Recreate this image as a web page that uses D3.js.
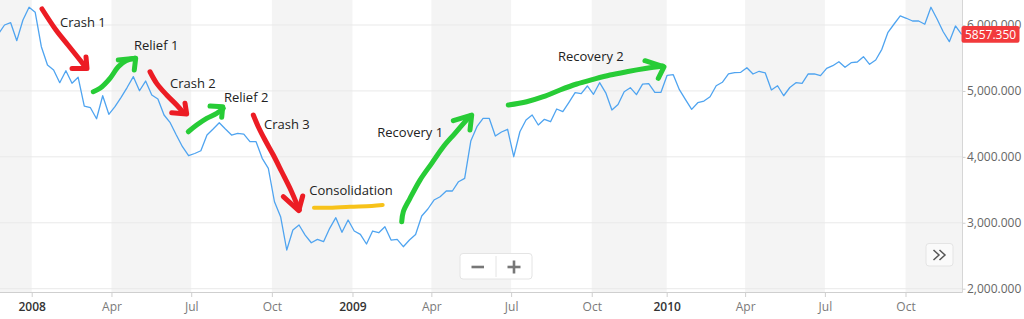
<!DOCTYPE html>
<html><head><meta charset="utf-8">
<script src="https://cdn.jsdelivr.net/npm/d3@7"></script>
<style>html,body{margin:0;padding:0;background:#fff;overflow:hidden}svg{display:block}</style>
</head><body><svg id="chart" width="1024" height="319"></svg>
<script>
// ---------- DATA ----------
const startDate = "2007-11-24";
const skippedWeeks = ["2009-12-26"];
const values = [
5863,6000,6035,5762,6076,6269,6193,5671,5393,5317,
5125,5307,5116,5207,4771,4745,4578,4927,4645,4761,
4903,5055,5216,5003,5150,4938,4877,4635,4518,4331,
4154,4017,4051,4093,4331,4422,4518,4422,4331,4357,
4346,4230,4230,3978,3826,3319,3092,2587,2890,2966,
2814,2697,2749,2713,2916,3077,2855,3042,2875,2825,
2678,2875,2849,2940,2738,2749,2637,2738,2822,3103,
3209,3345,3395,3482,3482,3623,3674,4240,4457,4585,
4585,4316,4377,4418,4002,4381,4559,4635,4483,4569,
4533,4726,4685,4827,4973,4958,5075,4949,5125,4971,
4711,4794,4988,5049,4943,5102,5110,4979,4979,5237,
5246,5019,4867,4721,4821,4847,4912,5078,5131,5257,
5279,5282,5352,5257,5298,5272,5014,5078,4927,5052,
5125,5116,5257,5257,5231,5343,5383,5443,5358,5428,
5439,5519,5404,5469,5631,5889,6015,6137,6102,6061,
6061,6011,6269,6091,5898,5747,5985,5857.35
];
const lastPrice = 5857.35;
const yTickValues = [2000, 3000, 4000, 5000, 6000];
const xTickDates = ["2008-01-01","2008-04-01","2008-07-01","2008-10-01","2009-01-01","2009-04-01","2009-07-01","2009-10-01","2010-01-01","2010-04-01","2010-07-01","2010-10-01"];
const xTickLabels = ["2008","Apr","Jul","Oct","2009","Apr","Jul","Oct","2010","Apr","Jul","Oct"];
const shadedQuarters = [["2007-10-01","2008-01-01"],["2008-04-01","2008-07-01"],["2008-10-01","2009-01-01"],["2009-04-01","2009-07-01"],["2009-10-01","2010-01-01"],["2010-04-01","2010-07-01"],["2010-10-01","2011-01-01"]];

// annotations in data units: [week index, value]
const labelTexts = ["Crash 1","Relief 1","Crash 2","Relief 2","Crash 3","Consolidation","Recovery 1","Recovery 2"];
const labelIdx   = [10.04, 22.1, 27.97, 36.77, 43.29, 50.68, 61.76, 91.21];
const labelVal   = [5969, 5620, 5044, 4836, 4417, 3421, 4296, 5454];

const crash1Path = [[7.11,6243],[9.39,5924],[11.34,5697],[13.30,5469],[14.28,5348]];
const crash1Head = [[12.0,5340],[14.44,5340],[14.28,5514]];
const relief1Path = [[15.47,4988],[16.56,5040],[18.19,5191],[19.54,5367],[20.80,5458],[22.27,5495]];
const relief1Head = [[19.54,5469],[22.38,5495],[22.15,5317]];
const crash2Path = [[24.71,5291],[25.80,5115],[27.43,4938],[29.06,4786],[30.25,4660]];
const crash2Head = [[28.25,4669],[30.69,4650],[30.42,4812]];
const relief2Path = [[30.95,4381],[32.32,4483],[33.95,4584],[35.58,4660],[36.66,4736]];
const relief2Head = [[34.49,4771],[36.56,4760],[36.40,4600]];
const crash3Path = [[41.55,4634],[42.36,4457],[43.46,4255],[44.81,4028],[46.18,3774],[47.53,3523],[49.05,3193]];
const crash3Head = [[46.44,3395],[48.96,3186],[49.60,3406]];
const consolidationPath = [[51.44,3228],[53.51,3228],[57.31,3243],[60.85,3254],[62.64,3269]];
const recovery1Path = [[65.74,3016],[66.0,3168],[67.09,3371],[68.72,3648],[70.63,3902],[72.52,4154],[74.42,4357],[76.87,4619]];
const recovery1Head = [[74.15,4548],[77.15,4634],[76.87,4407]];
const recovery2Path = [[83.11,4786],[86.11,4836],[88.82,4912],[91.54,5014],[94.26,5105],[96.97,5176],[99.69,5241],[102.41,5291],[105.67,5343],[108.28,5378]];
const recovery2Head = [[105.39,5458],[108.49,5363],[107.56,5191]];

// ---------- BUILD ----------
const RED = "#ec1c24", GREEN = "#27cc36", YELLOW = "#f7c21a";
const plot = {left: 0, right: 962.5, top: 0, bottom: 292};
const parse = d3.utcParse("%Y-%m-%d");
const fmt = d3.utcFormat("%Y-%m-%d");
const dates = [];
let cur = parse(startDate);
while (dates.length < values.length) {
  if (!skippedWeeks.includes(fmt(cur))) dates.push(cur);
  cur = d3.utcDay.offset(cur, 7);
}
const WEEK = 7 * 864e5;
function dateIndex(t) {
  const n = dates.length;
  if (t <= dates[0]) return (t - dates[0]) / WEEK;
  if (t >= dates[n - 1]) return n - 1 + (t - dates[n - 1]) / WEEK;
  const i = d3.bisectLeft(dates, t);
  if (+dates[i] === +t) return i;
  return i - 1 + (t - dates[i - 1]) / (dates[i] - dates[i - 1]);
}

const x = d3.scaleLinear().domain([0, values.length - 1]).range([-1.6, 961.6]);
const y = d3.scaleLinear().domain([2000, 6000]).range([288.7, 25]);

const svg = d3.select("#chart");
svg.append("defs").append("clipPath").attr("id", "clip")
  .append("rect").attr("x", plot.left).attr("y", plot.top)
  .attr("width", plot.right - plot.left).attr("height", plot.bottom - plot.top);

// bands
svg.append("g").selectAll("rect").data(shadedQuarters).join("rect")
  .attr("x", d => Math.max(plot.left, x(dateIndex(parse(d[0])))))
  .attr("width", d => Math.max(0, Math.min(plot.right, x(dateIndex(parse(d[1])))) - Math.max(plot.left, x(dateIndex(parse(d[0]))))))
  .attr("y", plot.top).attr("height", plot.bottom - plot.top)
  .attr("fill", "#f4f4f4");

// gridlines
svg.append("g").selectAll("line").data(yTickValues).join("line")
  .attr("x1", plot.left).attr("x2", plot.right)
  .attr("y1", d => y(d)).attr("y2", d => y(d))
  .attr("stroke", "#e9e9e9").attr("stroke-width", 1);

// series line
svg.append("path").datum(values)
  .attr("clip-path", "url(#clip)")
  .attr("fill", "none").attr("stroke", "#4fa4f0").attr("stroke-width", 1.3)
  .attr("stroke-linejoin", "round")
  .attr("d", d3.line().x((d, i) => x(i)).y(d => y(d)));

// x axis
const xAxisG = svg.append("g").attr("transform", `translate(0,${plot.bottom})`)
  .call(d3.axisBottom(x)
    .tickValues(xTickDates.map(s => dateIndex(parse(s))))
    .tickFormat((d, i) => xTickLabels[i])
    .tickSize(5).tickSizeOuter(0).tickPadding(5));
xAxisG.select(".domain").remove();
xAxisG.selectAll(".tick line").attr("stroke", "#cfcfcf");
xAxisG.selectAll(".tick text")
  .attr("font-family", "'Open Sans', sans-serif").attr("font-size", 12)
  .attr("fill", (d, i) => /^\d{4}$/.test(xTickLabels[i]) ? "#333" : "#7a7a7a")
  .attr("font-weight", (d, i) => /^\d{4}$/.test(xTickLabels[i]) ? 600 : 400);
svg.append("line").attr("x1", plot.left).attr("x2", plot.right)
  .attr("y1", plot.bottom + 0.5).attr("y2", plot.bottom + 0.5).attr("stroke", "#cfcfcf");

// y axis
const yAxisG = svg.append("g").attr("transform", `translate(${plot.right},0)`)
  .call(d3.axisRight(y).tickValues(yTickValues).tickFormat(d3.format(",.3f"))
    .tickSize(3).tickSizeOuter(0).tickPadding(1.5));
yAxisG.select(".domain").remove();
yAxisG.selectAll(".tick line").attr("stroke", "#cfcfcf");
yAxisG.selectAll(".tick text").attr("font-family", "'Open Sans', sans-serif")
  .attr("font-size", 12).attr("fill", "#666");
svg.append("line").attr("x1", plot.right).attr("x2", plot.right)
  .attr("y1", plot.top).attr("y2", plot.bottom + 0.5).attr("stroke", "#d6d6d6");

// last price label
const pl = svg.append("g").attr("transform", `translate(${plot.right - 1},${y(lastPrice)})`);
pl.append("rect").attr("x", 0).attr("y", -8.3).attr("width", 58).attr("height", 16.6)
  .attr("rx", 2).attr("fill", "#f23a3c");
pl.append("text").attr("x", 3.5).attr("dy", "0.35em").text(d3.format(".3f")(lastPrice))
  .attr("font-family", "'Open Sans', sans-serif").attr("font-size", 12).attr("fill", "#fff");

// annotations
const annLine = d3.line().x(d => x(d[0])).y(d => y(d[1])).curve(d3.curveCatmullRom);
const headLine = d3.line().x(d => x(d[0])).y(d => y(d[1]));
const arrows = [
  [crash1Path, crash1Head, RED], [relief1Path, relief1Head, GREEN],
  [crash2Path, crash2Head, RED], [relief2Path, relief2Head, GREEN],
  [crash3Path, crash3Head, RED], [recovery1Path, recovery1Head, GREEN],
  [recovery2Path, recovery2Head, GREEN]
];
const ag = svg.append("g").attr("fill", "none").attr("stroke-linecap", "round").attr("stroke-linejoin", "round");
arrows.forEach(([p, h, c]) => {
  ag.append("path").attr("d", annLine(p)).attr("stroke", c).attr("stroke-width", 5);
  ag.append("path").attr("d", headLine(h)).attr("stroke", c).attr("stroke-width", 5);
});
ag.append("path").attr("d", annLine(consolidationPath)).attr("stroke", YELLOW).attr("stroke-width", 4);

svg.append("g").selectAll("text").data(labelTexts).join("text")
  .attr("x", (d, i) => x(labelIdx[i])).attr("y", (d, i) => y(labelVal[i]))
  .text(d => d)
  .attr("font-family", "'Open Sans', sans-serif").attr("font-size", 13).attr("fill", "#222");

// zoom buttons
const zb = svg.append("g");
zb.append("rect").attr("x", 460).attr("y", 253.5).attr("width", 72).attr("height", 25.5).attr("rx", 3)
  .attr("fill", "#fff").attr("stroke", "#e4e4e4");
zb.append("line").attr("x1", 496).attr("x2", 496).attr("y1", 256).attr("y2", 277).attr("stroke", "#e4e4e4");
zb.append("line").attr("x1", 471.5).attr("x2", 484).attr("y1", 267).attr("y2", 267).attr("stroke", "#777").attr("stroke-width", 2.6);
zb.append("line").attr("x1", 507.5).attr("x2", 520.5).attr("y1", 267).attr("y2", 267).attr("stroke", "#777").attr("stroke-width", 2.6);
zb.append("line").attr("x1", 514).attr("x2", 514).attr("y1", 260.5).attr("y2", 273.5).attr("stroke", "#777").attr("stroke-width", 2.6);

const nb = svg.append("g");
nb.append("rect").attr("x", 926).attr("y", 243.5).attr("width", 27).attr("height", 22.5).attr("rx", 3)
  .attr("fill", "#fafafa").attr("stroke", "#e4e4e4");
nb.append("path").attr("d", "M933.5,250L939,255L933.5,260M939.5,250L945,255L939.5,260")
  .attr("fill", "none").attr("stroke", "#555").attr("stroke-width", 1.5);
</script></body></html>
